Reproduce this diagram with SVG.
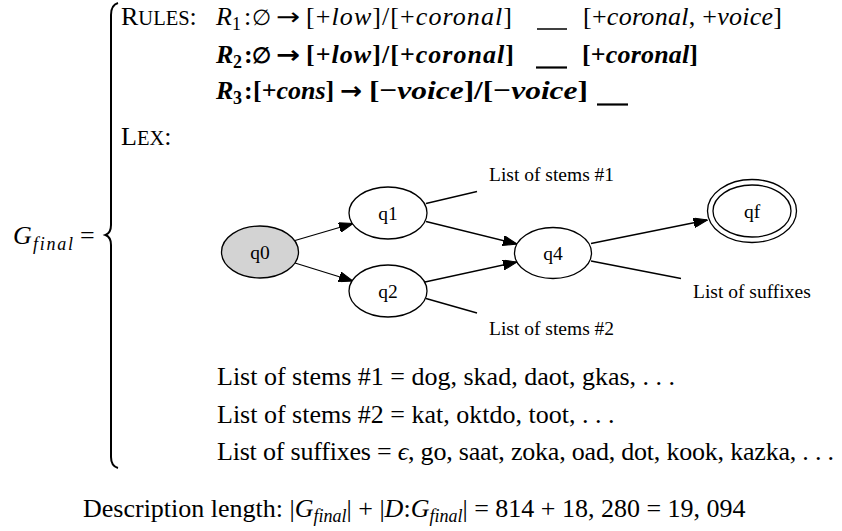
<svg xmlns="http://www.w3.org/2000/svg" width="842" height="531" viewBox="0 0 842 531">
<defs>
<style>
.t{font-family:"Liberation Serif","DejaVu Serif",serif;fill:#000}
.ar{font-family:"DejaVu Sans",sans-serif;font-size:24px;fill:#000}
.m{font-size:26px}
.s{font-size:18px}
.g{font-size:19.5px}
.it{font-style:italic}
.b{font-weight:bold}
.e{stroke:#000;stroke-width:1.3;fill:none}
.n{stroke:#000;stroke-width:1.3;fill:#fff}
</style>
<marker id="ah" viewBox="0 0 14 10" refX="14" refY="5" markerWidth="14" markerHeight="10" markerUnits="userSpaceOnUse" orient="auto">
<path d="M0,0 L14,5 L0,10 Z" fill="#000" stroke="#000" stroke-width="1"/>
</marker>
</defs>
<rect width="842" height="531" fill="#fff"/>

<g id="lhs">
<text class="t m it" x="13" y="244">G</text>
<text class="t s it" x="33" y="250" textLength="40" lengthAdjust="spacing">final</text>
<text class="t m" x="80" y="244">=</text>
<path d="M118,3 Q111,5 111,15 L111,225 Q111,233 105.5,235 Q111,237 111,245 L111,457 Q111,466 118,468" fill="none" stroke="#000" stroke-width="2"/>
</g>

<g id="rules">
<text class="t m" x="121" y="25">R<tspan font-size="20.5">ULES</tspan>:</text>
<text class="t m it" x="216" y="25">R</text>
<text class="t s" x="232" y="30">1</text>
<text class="t m" x="244" y="25">:</text>
<text class="t" x="252" y="25" font-size="21.5">∅</text>
<text class="ar" transform="translate(276,25) scale(1.2,1)">→</text>
<text class="t m" x="306" y="25" textLength="206" lengthAdjust="spacing">[+<tspan class="it">low</tspan>]/[+<tspan class="it">coronal</tspan>]</text>
<line x1="537" y1="29" x2="567" y2="29" stroke="#000" stroke-width="1.5"/>
<text class="t m" x="583" y="25" textLength="199" lengthAdjust="spacing">[+<tspan class="it">coronal</tspan>, +<tspan class="it">voice</tspan>]</text>

<text class="t m it b" x="216" y="63">R</text>
<text class="t s b" x="233" y="68">2</text>
<text class="t m b" x="244" y="63">:</text>
<text class="t b" x="252" y="63" font-size="21.5">∅</text>
<text class="ar b" transform="translate(276,63) scale(1.2,1)">→</text>
<text class="t m b" x="306" y="63" textLength="208" lengthAdjust="spacing">[+<tspan class="it">low</tspan>]/[+<tspan class="it">coronal</tspan>]</text>
<line x1="536" y1="67.5" x2="567" y2="67.5" stroke="#000" stroke-width="2.2"/>
<text class="t m b" x="582" y="63" textLength="116" lengthAdjust="spacing">[+<tspan class="it">coronal</tspan>]</text>

<text class="t m it b" x="216" y="99">R</text>
<text class="t s b" x="233" y="104">3</text>
<text class="t m b" x="244" y="99">:</text>
<text class="t m b" x="253" y="99">[+<tspan class="it">cons</tspan>]</text>
<text class="ar b" transform="translate(340,99) scale(1.1,1)">→</text>
<text class="t m b" x="369" y="99" textLength="219" lengthAdjust="spacingAndGlyphs">[−<tspan class="it">voice</tspan>]/[−<tspan class="it">voice</tspan>]</text>
<line x1="597" y1="104.5" x2="628" y2="104.5" stroke="#000" stroke-width="2.2"/>

<text class="t m" x="121" y="145">L<tspan font-size="20.5">EX</tspan>:</text>
</g>

<g id="connectors">
<line class="e" x1="295" y1="240.5" x2="353" y2="223.5" marker-end="url(#ah)"/>
<line class="e" x1="295" y1="263" x2="353" y2="281" marker-end="url(#ah)"/>
<line class="e" x1="426" y1="221.5" x2="517" y2="244" marker-end="url(#ah)"/>
<line class="e" x1="425" y1="282" x2="517" y2="262" marker-end="url(#ah)"/>
<line class="e" x1="591" y1="243.5" x2="707.5" y2="220" marker-end="url(#ah)"/>
<line class="e" x1="426" y1="203.5" x2="477" y2="191.5"/>
<line class="e" x1="426" y1="298.5" x2="477" y2="313"/>
<line class="e" x1="591" y1="261" x2="681" y2="278.5"/>
</g>

<g id="q0">
<ellipse cx="260" cy="252" rx="38.5" ry="26" stroke="#000" stroke-width="1.3" fill="#d3d3d3"/>
<text class="t g" x="260" y="258.5" text-anchor="middle">q0</text>
</g>
<g id="q1">
<ellipse class="n" cx="388" cy="213" rx="39" ry="26"/>
<text class="t g" x="388" y="219.5" text-anchor="middle">q1</text>
</g>
<g id="q2">
<ellipse class="n" cx="388" cy="291" rx="39" ry="26"/>
<text class="t g" x="388" y="297.5" text-anchor="middle">q2</text>
</g>
<g id="q4">
<ellipse class="n" cx="553" cy="253" rx="38.5" ry="25.5"/>
<text class="t g" x="553" y="259.5" text-anchor="middle">q4</text>
</g>
<g id="qf">
<ellipse class="n" cx="752" cy="211" rx="44.5" ry="31.5"/>
<ellipse class="n" cx="752" cy="211" rx="39" ry="26"/>
<text class="t g" x="752" y="217.5" text-anchor="middle">qf</text>
</g>
<g id="stems1">
<text class="t g" x="489" y="181">List of stems #1</text>
</g>
<g id="stems2">
<text class="t g" x="489" y="335">List of stems #2</text>
</g>
<g id="suffixes">
<text class="t g" x="693" y="298">List of suffixes</text>
</g>

<g id="lists">
<text class="t m" x="217" y="385">List of stems #1 = dog, skad, daot, gkas, . . .</text>
<text class="t m" x="217" y="423">List of stems #2 = kat, oktdo, toot, . . .</text>
<text class="t m" x="217" y="460" textLength="617" lengthAdjust="spacing">List of suffixes = <tspan class="it">ϵ</tspan>, go, saat, zoka, oad, dot, kook, kazka, . . .</text>
</g>

<g id="description">
<text class="t m" x="83" y="517">Description length: |<tspan class="it">G</tspan><tspan class="s it" dy="5">final</tspan><tspan dy="-5">| + |</tspan><tspan class="it">D</tspan>:<tspan class="it">G</tspan><tspan class="s it" dy="5">final</tspan><tspan dy="-5">| = 814 + 18, 280 = 19, 094</tspan></text>
</g>
</svg>
